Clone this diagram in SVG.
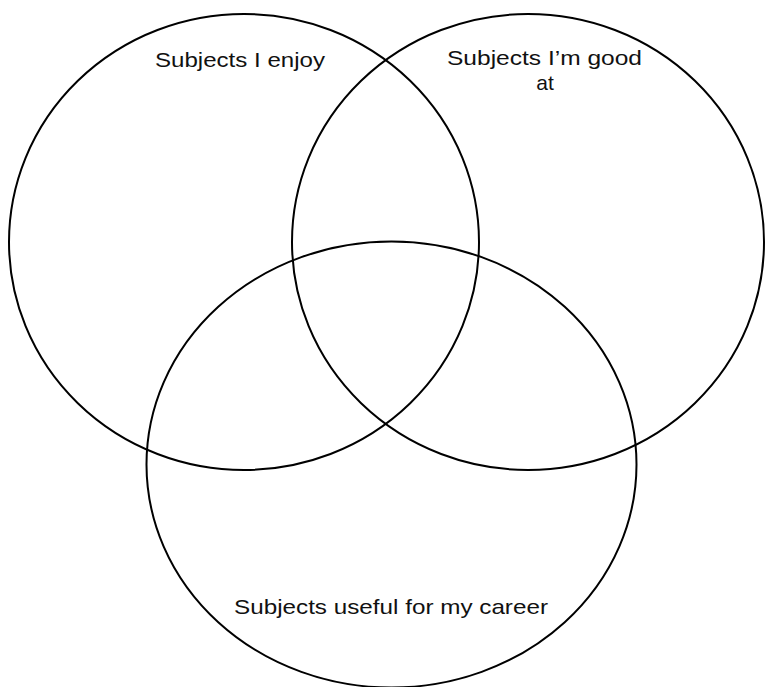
<svg xmlns="http://www.w3.org/2000/svg" width="765" height="687" viewBox="0 0 765 687">
<style>
.c{fill:none;stroke:#000;stroke-width:2}
.t{font-family:"Liberation Sans",Arial,sans-serif;font-size:21px;fill:#111;text-anchor:middle}
</style>
<rect width="765" height="687" fill="#fff"/>
<g id="enjoy">
<ellipse class="c" cx="244" cy="242" rx="235" ry="228"/>
<text class="t" x="240" y="67" textLength="170" lengthAdjust="spacingAndGlyphs">Subjects I enjoy</text>
</g>
<g id="good">
<ellipse class="c" cx="528" cy="242" rx="236" ry="228"/>
<text class="t" x="544.5" y="65" textLength="195" lengthAdjust="spacingAndGlyphs">Subjects I’m good</text>
<text class="t" x="545" y="90">at</text>
</g>
<g id="career">
<ellipse class="c" cx="391.5" cy="464.5" rx="245" ry="223"/>
<text class="t" x="391" y="614" textLength="314" lengthAdjust="spacingAndGlyphs">Subjects useful for my career</text>
</g>
<g id="connectors"/>
</svg>
